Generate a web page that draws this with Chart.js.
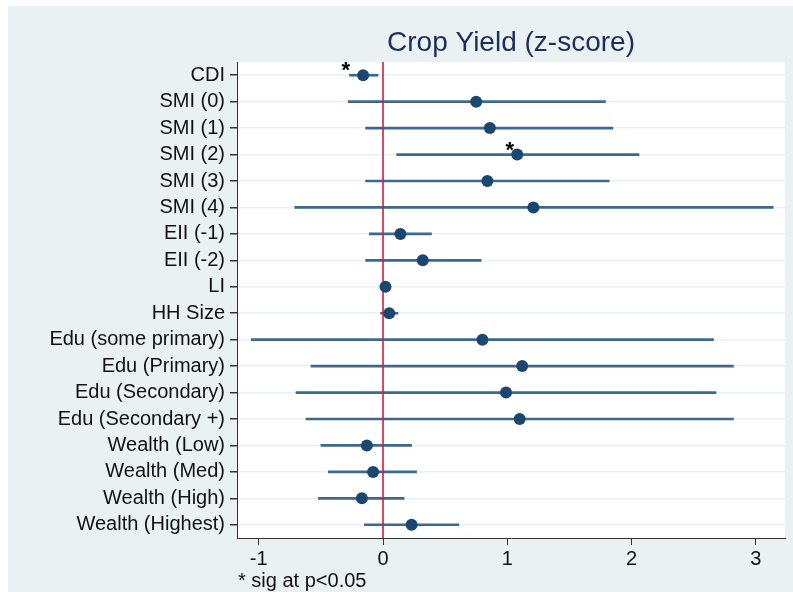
<!DOCTYPE html>
<html>
<head>
<meta charset="utf-8">
<script src="https://cdn.jsdelivr.net/npm/chart.js@4"></script>
<style>
  html, body { margin: 0; padding: 0; background: #ffffff; }
  #wrap { position: relative; width: 793px; height: 592px; }
  canvas { display: block; }
</style>
</head>
<body>
<div id="wrap"><canvas id="c" width="793" height="592"></canvas></div>
<script>
// Coefficient estimates with 95% confidence intervals
const categories = ['CDI', 'SMI (0)', 'SMI (1)', 'SMI (2)', 'SMI (3)', 'SMI (4)',
  'EII (-1)', 'EII (-2)', 'LI', 'HH Size', 'Edu (some primary)', 'Edu (Primary)',
  'Edu (Secondary)', 'Edu (Secondary +)', 'Wealth (Low)', 'Wealth (Med)',
  'Wealth (High)', 'Wealth (Highest)'];
const coef   = [-0.16, 0.75, 0.86, 1.08, 0.84, 1.21, 0.14, 0.32, 0.02, 0.05,
  0.80, 1.12, 0.99, 1.10, -0.13, -0.08, -0.17, 0.23];
const ciLow  = [-0.27, -0.28, -0.14, 0.11, -0.14, -0.71, -0.11, -0.14, 0.00, -0.02,
  -1.06, -0.58, -0.70, -0.62, -0.50, -0.44, -0.52, -0.15];
const ciHigh = [-0.04, 1.79, 1.85, 2.06, 1.82, 3.14, 0.39, 0.79, 0.03, 0.12,
  2.66, 2.82, 2.68, 2.82, 0.23, 0.27, 0.17, 0.61];
const xTicks = [-1, 0, 1, 2, 3];
// significance markers: category and x position of the asterisk
const sigRows = ['CDI', 'SMI (2)'];
const sigX    = [-0.30, 1.02];

const titleText = 'Crop Yield (z-score)';
const noteText = '* sig at p<0.05';
const FONT = "'Liberation Sans', Arial, Helvetica, sans-serif";

const decor = {
  id: 'decor',
  beforeDraw(chart) {
    const ctx = chart.ctx;
    ctx.save();
    ctx.fillStyle = '#e9f1f3';
    ctx.fillRect(8, 6, chart.width - 8, chart.height - 6);
    const a = chart.chartArea;
    ctx.fillStyle = '#ffffff';
    ctx.fillRect(a.left, a.top, a.right - a.left, a.bottom - a.top);
    ctx.restore();
  },
  afterDatasetDraw(chart, args) {
    if (args.index !== 0) return;
    // reference line at zero, above the interval lines, below the markers
    const ctx = chart.ctx, a = chart.chartArea;
    const x = chart.scales.x.getPixelForValue(0);
    ctx.save();
    ctx.strokeStyle = '#d41c44';
    ctx.lineWidth = 1.6;
    ctx.beginPath();
    ctx.moveTo(x, a.top);
    ctx.lineTo(x, a.bottom);
    ctx.stroke();
    ctx.restore();
  },
  afterDraw(chart) {
    const ctx = chart.ctx, a = chart.chartArea;
    const xs = chart.scales.x, ys = chart.scales.y;
    ctx.save();
    // title
    ctx.fillStyle = '#1f2d5a';
    ctx.font = '28px ' + FONT;
    ctx.textAlign = 'center';
    ctx.textBaseline = 'middle';
    ctx.fillText(titleText, (a.left + a.right) / 2, 43);
    // asterisks for significant estimates
    ctx.fillStyle = '#000000';
    ctx.font = 'bold 22px ' + FONT;
    sigRows.forEach((r, i) => {
      const px = xs.getPixelForValue(sigX[i]);
      const py = ys.getPixelForValue(categories.indexOf(r));
      ctx.fillText('*', px, py - 4);
    });
    // footnote
    ctx.fillStyle = '#111111';
    ctx.font = '20px ' + FONT;
    ctx.textAlign = 'left';
    ctx.fillText(noteText, 238, 581);
    ctx.restore();
  }
};

new Chart(document.getElementById('c'), {
  type: 'bar',
  data: {
    labels: categories,
    datasets: [
      {
        type: 'bar',
        data: ciLow.map((lo, i) => [lo, ciHigh[i]]),
        backgroundColor: '#3d6990',
        borderWidth: 0,
        barThickness: 2,
        order: 2
      },
      {
        type: 'line',
        data: coef,
        showLine: false,
        pointRadius: 6,
        pointHoverRadius: 6,
        pointBackgroundColor: '#1a476f',
        pointBorderWidth: 0,
        order: 1
      }
    ]
  },
  options: {
    indexAxis: 'y',
    responsive: false,
    animation: false,
    layout: { padding: { top: 62, right: 8, left: 0, bottom: 0 } },
    plugins: { legend: { display: false }, tooltip: { enabled: false }, title: { display: false } },
    scales: {
      x: {
        type: 'linear',
        min: -1.175,
        max: 3.235,
        afterBuildTicks(scale) { scale.ticks = xTicks.map(v => ({ value: v })); },
        afterFit(scale) { scale.height = 54; },
        grid: { drawOnChartArea: false, color: '#333333', tickColor: '#333333', tickLength: 7, lineWidth: 1 },
        border: { color: '#333333', width: 1 },
        ticks: { color: '#111111', font: { size: 20, family: FONT }, padding: 2, maxRotation: 0 }
      },
      y: {
        type: 'category',
        offset: true,
        afterFit(scale) { scale.width = 237; },
        grid: { offset: false, color: '#e9f1f3', lineWidth: 1.5, tickColor: '#333333', tickLength: 7 },
        border: { color: '#333333', width: 1 },
        ticks: { color: '#111111', font: { size: 20, family: FONT }, padding: 5, autoSkip: false }
      }
    }
  },
  plugins: [decor]
});
</script>
</body>
</html>
